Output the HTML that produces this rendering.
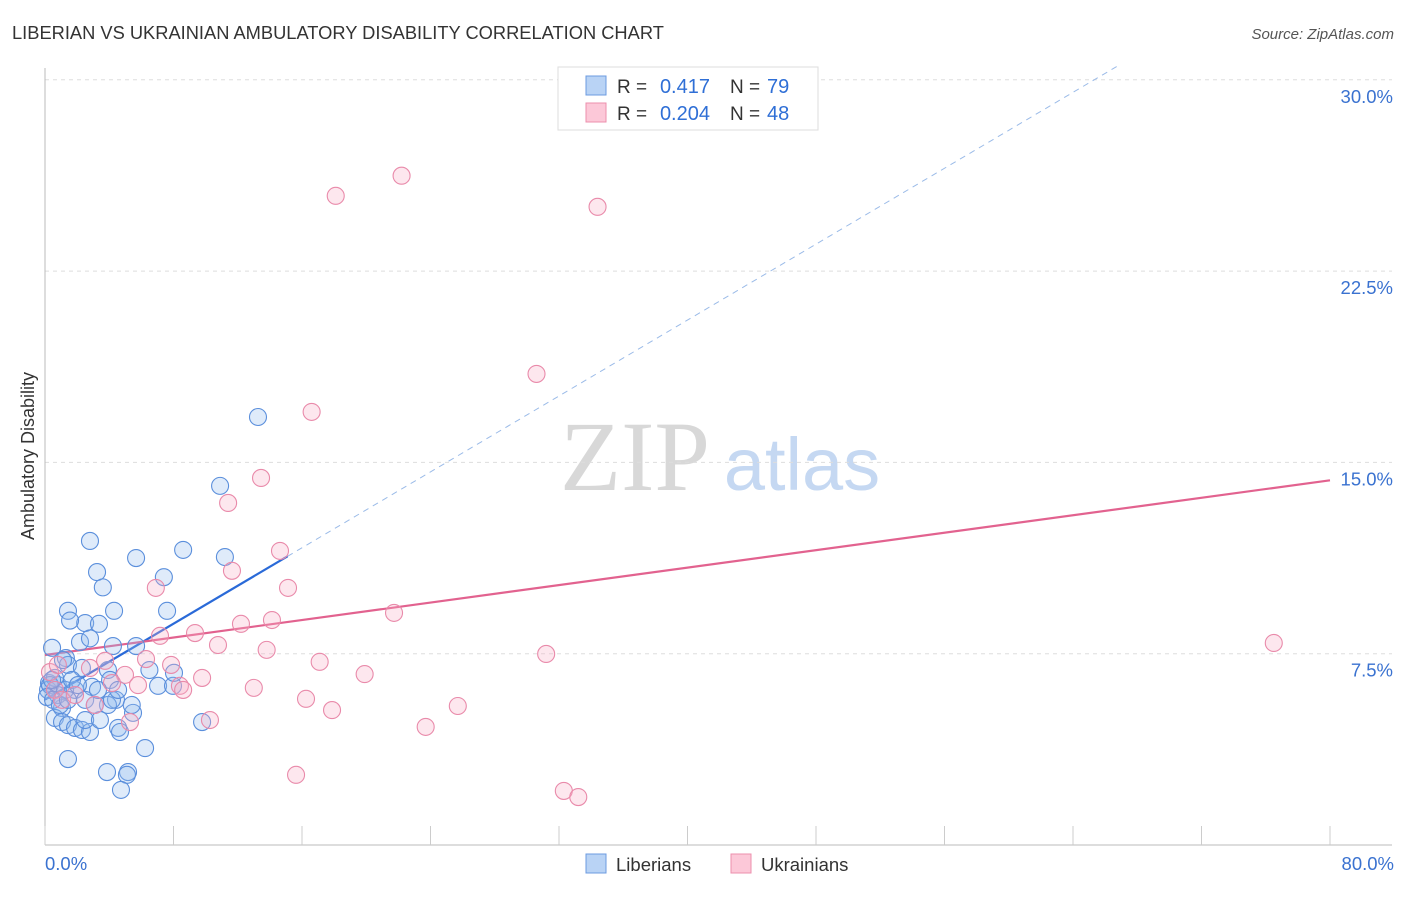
<!DOCTYPE html>
<html><head><meta charset="utf-8"><style>
body{margin:0;background:#fff;font-family:"Liberation Sans",sans-serif;}
</style></head><body>
<svg id="chart" width="1406" height="892" viewBox="0 0 1406 892" font-family="Liberation Sans, sans-serif">
<text x="12" y="39" font-size="18.3" fill="#333">LIBERIAN VS UKRAINIAN AMBULATORY DISABILITY CORRELATION CHART</text>
<text x="1394" y="39" font-size="15" fill="#555" font-style="italic" text-anchor="end">Source: ZipAtlas.com</text>
<text transform="translate(34,456) rotate(-90)" font-size="18" fill="#333" text-anchor="middle">Ambulatory Disability</text>
<g>
<text x="635" y="490" font-size="100" fill="#d8d8d8" style="font-family:'Liberation Serif',serif" text-anchor="middle">ZIP</text>
<text x="802" y="490" font-size="74" fill="#c5d8f2" text-anchor="middle">atlas</text>
</g>
<g id="grid"></g><g id="axes"></g><g id="lines"></g><g id="pts"></g>
<g>
<rect x="558" y="67" width="260" height="63" fill="#fff" stroke="#ddd"/>
<rect x="586" y="76" width="20" height="19" fill="#b9d3f5" stroke="#6c9be0"/>
<rect x="586" y="103" width="20" height="19" fill="#fcc8d8" stroke="#ec8fad"/>
<text x="617" y="93" font-size="19" fill="#333">R =</text>
<text x="710" y="93" font-size="20" fill="#2f6fd6" text-anchor="end">0.417</text>
<text x="730" y="93" font-size="19" fill="#333">N =</text>
<text x="767" y="93" font-size="20" fill="#2f6fd6">79</text>
<text x="617" y="120" font-size="19" fill="#333">R =</text>
<text x="710" y="120" font-size="20" fill="#2f6fd6" text-anchor="end">0.204</text>
<text x="730" y="120" font-size="19" fill="#333">N =</text>
<text x="767" y="120" font-size="20" fill="#2f6fd6">48</text>
</g>
<g>
<rect x="586" y="854" width="20" height="19" fill="#b9d3f5" stroke="#6c9be0"/>
<text x="616" y="871" font-size="18.5" fill="#333">Liberians</text>
<rect x="731" y="854" width="20" height="19" fill="#fcc8d8" stroke="#ec8fad"/>
<text x="761" y="871" font-size="18.5" fill="#333">Ukrainians</text>
</g>
</svg>
<script>
const yTicks=[7.5,15,22.5,30];
const yTickLabels=["7.5%","15.0%","22.5%","30.0%"];
const xTicks=[0,8,16,24,32,40,48,56,64,72,80];
const libX=[13.26,10.9,2.8,8.6,5.67,11.2,3.24,7.4,3.6,1.43,7.6,4.3,2.5,1.56,3.36,4.23,2.18,5.67,2.8,0.44,1.3,1.43,2.3,3.92,1.12,0.25,0.8,1.87,2.93,4.05,7.04,7.97,8.03,4.42,3.92,1.06,0.19,0.62,1.06,1.43,1.87,2.3,2.8,2.5,3.42,5.48,4.55,4.67,9.78,1.43,6.23,3.86,5.17,5.1,4.73,0.62,0.31,0.8,1.25,1.68,2.05,0.12,0.5,0.93,2.5,3.1,4.17,4.55,5.4,3.3,6.5,1.43,0.44];
const libY=[16.78,14.08,11.92,11.57,11.25,11.29,10.7,10.5,10.1,9.18,9.18,9.18,8.7,8.8,8.67,7.8,7.96,7.8,8.1,7.73,7.33,7.06,6.94,6.86,7.25,6.35,6.27,6.08,6.2,6.47,6.24,6.24,6.75,5.69,5.49,5.37,6.08,4.98,4.82,4.7,4.59,4.51,4.43,4.9,4.9,5.18,4.59,4.43,4.82,3.37,3.8,2.86,2.86,2.75,2.16,6.55,6.27,5.88,6.08,6.47,6.27,5.8,5.69,5.49,5.69,5.49,5.69,6.08,5.49,6.08,6.86,5.69,6.47];
const ukrX=[22.2,18.1,34.4,30.6,16.6,13.45,11.4,14.63,11.64,15.13,6.9,21.73,12.2,14.13,7.16,9.34,10.77,13.8,31.2,76.5,6.29,3.74,7.85,17.1,2.8,4.98,19.9,9.78,8.4,8.6,13.0,5.79,4.17,16.25,17.87,25.7,10.27,5.29,23.7,15.63,32.3,33.2,0.62,1.06,1.87,0.31,3.1,0.8];
const ukrY=[26.24,25.45,25.02,18.47,16.98,14.39,13.41,11.53,10.75,10.08,10.08,9.1,8.67,8.82,8.2,8.31,7.84,7.65,7.49,7.92,7.29,7.22,7.06,7.18,6.94,6.67,6.7,6.55,6.24,6.08,6.16,6.27,6.35,5.73,5.29,5.45,4.9,4.82,4.63,2.75,2.12,1.88,6.08,5.69,5.88,6.78,5.49,7.06];
const libTrend=[5.7,0.372];
const ukrTrend=[7.45,0.0856];
const X0=45,X1=1330,Y0=845,PXY=191.3/7.5;
const sx=v=>X0+(X1-X0)*v/80;
const sy=v=>Y0-v*PXY;
const NS="http://www.w3.org/2000/svg";
function mk(p,t,a){const e=document.createElementNS(NS,t);for(const k in a)e.setAttribute(k,a[k]);document.getElementById(p).appendChild(e);return e;}
yTicks.forEach((t,i)=>{
 const g=mk('grid','line',{x1:X0,x2:1392,y1:sy(t),y2:sy(t),stroke:'#ddd','stroke-dasharray':'4,4'});
 
 
 const l=mk('grid','text',{x:1393,y:sy(t)+23,'font-size':18.5,fill:'#3a72d0','text-anchor':'end'});
 l.textContent=yTickLabels[i];
 
 
});
const ax=mk('axes','line',{x1:X0,x2:X0,y1:68,y2:Y0,stroke:'#bbb'});


const bx=mk('axes','line',{x1:X0,x2:1392,y1:Y0,y2:Y0,stroke:'#bbb'});


xTicks.forEach(t=>{const k=mk('axes','line',{x1:sx(t),x2:sx(t),y1:826,y2:Y0,stroke:'#ccc'});
 
 });
const xl0=mk('axes','text',{x:45,y:870,'font-size':18.5,fill:'#3a72d0'});xl0.textContent=xTicks[0].toFixed(1)+'%';


const xl1=mk('axes','text',{x:1394,y:870,'font-size':18.5,fill:'#3a72d0','text-anchor':'end'});xl1.textContent=xTicks[10].toFixed(1)+'%';


libX.forEach((x,i)=>{const c=mk('pts','circle',{cx:sx(x),cy:sy(libY[i]),r:8.5,fill:'rgba(150,188,238,0.3)',stroke:'#5b8fdc','stroke-width':1.1});
 
 });
ukrX.forEach((x,i)=>{const c=mk('pts','circle',{cx:sx(x),cy:sy(ukrY[i]),r:8.5,fill:'rgba(248,175,200,0.3)',stroke:'#e98aaa','stroke-width':1.1});
 
 });
const lf=x=>libTrend[0]+libTrend[1]*x, uf=x=>ukrTrend[0]+ukrTrend[1]*x;
const xEnd=(30.6-libTrend[0])/libTrend[1];
const d1=mk('lines','line',{x1:sx(15.1),y1:sy(lf(15.1)),x2:sx(xEnd),y2:sy(lf(xEnd)),stroke:'#9bbbe8','stroke-width':1,'stroke-dasharray':'6,5'});


const l1=mk('lines','line',{x1:sx(0),y1:sy(lf(0)),x2:sx(15.1),y2:sy(lf(15.1)),stroke:'#2a6ad8','stroke-width':2.2});


const l2=mk('lines','line',{x1:sx(0),y1:sy(uf(0)),x2:sx(80),y2:sy(uf(80)),stroke:'#e2628f','stroke-width':2.2});


</script>
</body></html>
